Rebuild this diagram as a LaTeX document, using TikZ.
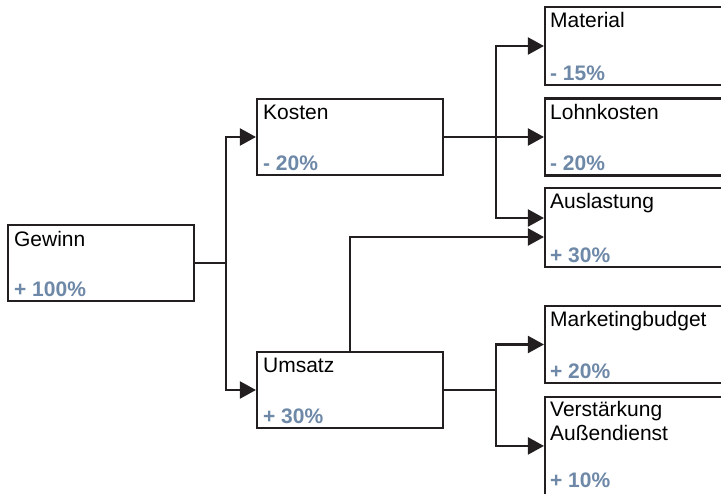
\documentclass[tikz,border=0pt]{standalone}
\usepackage{fontspec}
\setmainfont{Liberation Sans}
\usetikzlibrary{arrows.meta,calc}
\definecolor{valblue}{HTML}{6E88A8}
\definecolor{linegray}{HTML}{231F20}
\begin{document}
\begin{tikzpicture}[x=1pt,y=-1pt,
  box/.style={draw=linegray,line width=2.1pt,fill=white,inner sep=0pt},
  ttl/.style={anchor=base west,inner sep=0pt,font=\fontsize{21}{24}\selectfont,text=black},
  val/.style={anchor=base west,inner sep=0pt,font=\fontsize{21}{24}\selectfont\bfseries,text=valblue},
  conn/.style={draw=linegray,line width=2.1pt},
  arr/.style={conn,-{Triangle[length=16pt,width=17pt]}}]
\useasboundingbox (0,0) rectangle (721,494);
\clip (0,0) rectangle (721,494);
% boxes
\node[box,minimum width=186pt,minimum height=76pt] (gewinn) at (101,263) {};
\node[box,minimum width=186pt,minimum height=76pt] (kosten) at (350,137) {};
\node[box,minimum width=186pt,minimum height=76pt] (umsatz) at (350,390) {};
\node[box,minimum width=200pt,minimum height=78pt] (material) at (645,46) {};
\node[box,minimum width=200pt,minimum height=77pt] (lohn) at (645,137) {};
\node[box,minimum width=200pt,minimum height=79pt] (ausl) at (645,227.5) {};
\node[box,minimum width=200pt,minimum height=77pt] (mark) at (645,344.5) {};
\node[box,minimum width=200pt,minimum height=120pt] (verst) at (645,457) {};
% texts
\node[ttl] (tg) at ($(gewinn.north west)+(7,23)$) {Gewinn};
\node[val] (vg) at ($(gewinn.south west)+(7,-6)$) {+ 100\%};
\node[ttl] (tk) at ($(kosten.north west)+(7,22)$) {Kosten};
\node[val] (vk) at ($(kosten.south west)+(7,-6)$) {- 20\%};
\node[ttl] (tu) at ($(umsatz.north west)+(7,22)$) {Umsatz};
\node[val] (vu) at ($(umsatz.south west)+(7,-6)$) {+ 30\%};
\node[ttl] (tm) at ($(material.north west)+(6,22)$) {Material};
\node[val] (vm) at ($(material.south west)+(6,-6)$) {- 15\%};
\node[ttl] (tl) at ($(lohn.north west)+(6,22)$) {Lohnkosten};
\node[val] (vl) at ($(lohn.south west)+(6,-6)$) {- 20\%};
\node[ttl] (ta) at ($(ausl.north west)+(6,22)$) {Auslastung};
\node[val] (va) at ($(ausl.south west)+(6,-6)$) {+ 30\%};
\node[ttl] (tmb) at ($(mark.north west)+(6,22)$) {Marketingbudget};
\node[val] (vmb) at ($(mark.south west)+(6,-6)$) {+ 20\%};
\node[ttl] (tv1) at ($(verst.north west)+(6,21)$) {Verstärkung};
\node[ttl] (tv2) at ($(verst.north west)+(6,45)$) {Außendienst};
\node[val] (vv) at ($(verst.north west)+(6,92)$) {+ 10\%};
% target coordinates
\coordinate (ausltop) at ($(ausl.west)+(0,-9.5)$);
\coordinate (auslbot) at ($(ausl.west)+(0,9.5)$);
\coordinate (verstin) at ($(verst.north west)+(0,50)$);
% connectors
\draw[arr] (gewinn.east) -- ++(31,0) |- (kosten.west);
\draw[arr] (gewinn.east) -- ++(31,0) |- (umsatz.west);
\draw[arr] (kosten.east) -- ++(52,0) |- (material.west);
\draw[arr] (kosten.east) -- (lohn.west);
\draw[arr] (kosten.east) -- ++(52,0) |- (ausltop);
\draw[arr] (umsatz.north) |- (auslbot);
\draw[arr] (umsatz.east) -- ++(52,0) |- (mark.west);
\draw[arr] (umsatz.east) -- ++(52,0) |- (verstin);
\end{tikzpicture}
\end{document}
